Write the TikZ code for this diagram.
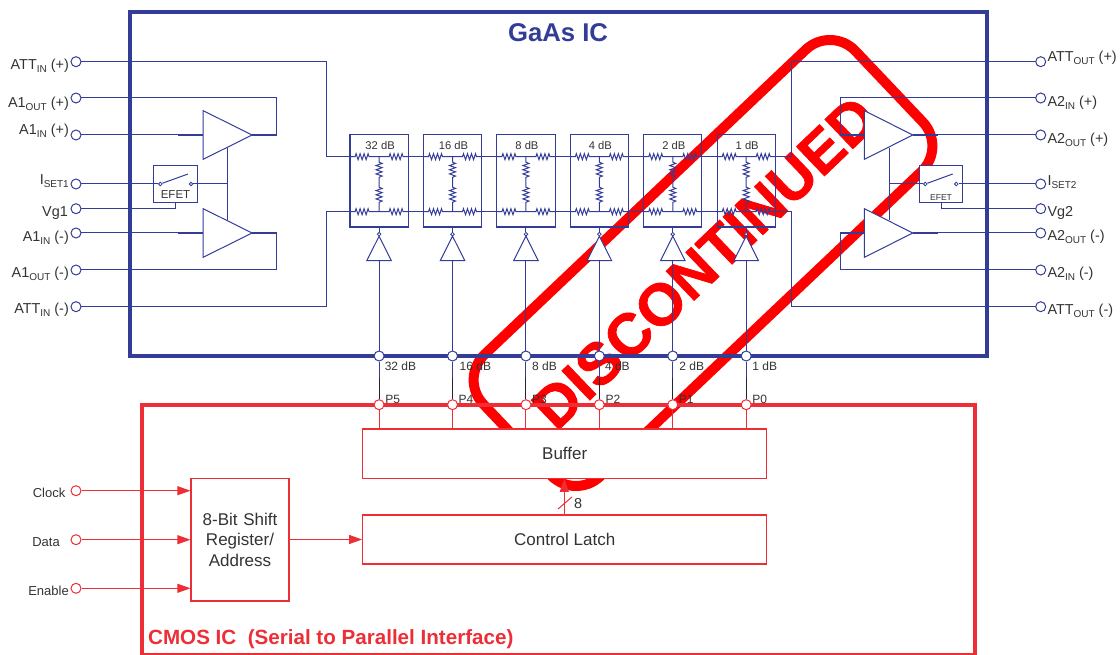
\documentclass[tikz,border=0pt]{standalone}
\usepackage{fontspec}
\setmainfont{Liberation Sans}
\newfontfamily\stampfont[BoldFeatures={FakeBold=1.2}]{Liberation Sans}
\usetikzlibrary{arrows.meta,calc}
\definecolor{gaas}{HTML}{333D97}
\definecolor{cmos}{HTML}{EE2E36}
\definecolor{ink}{HTML}{333333}
\definecolor{stampred}{HTML}{FF0000}
\newcommand{\fs}[1]{\fontsize{#1}{#1}\selectfont}
\newcommand{\sub}[1]{\raisebox{-2.8pt}{\fontsize{10}{10}\selectfont #1}}
\newcommand{\zh}{-- ++(1,-3) -- ++(2,6) -- ++(2,-6) -- ++(2,6) -- ++(2,-6) -- ++(2,6) -- ++(2,-6) -- ++(1,3)}
\newcommand{\zv}{-- ++(3,1.25) -- ++(-6,2.1) -- ++(6,2.1) -- ++(-6,2.1) -- ++(6,2.1) -- ++(-6,2.1) -- ++(6,2.1) -- ++(-3,1.25)}
\tikzset{
  wire/.style={draw=gaas,line width=1pt},
  fatwire/.style={draw=gaas,line width=1.8pt},
  rwire/.style={draw=cmos,line width=1pt},
  blk/.style={draw=black!85,line width=1pt},
  bpin/.style={circle,draw=gaas,fill=white,line width=1pt,inner sep=0pt,minimum size=10pt},
  rpin/.style={circle,draw=cmos,fill=white,line width=1pt,inner sep=0pt,minimum size=10pt},
  tiny/.style={circle,draw=gaas,fill=white,line width=0.8pt,inner sep=0pt,minimum size=3.6pt},
  amp/.style={draw=gaas,fill=white,line width=1pt,line join=miter},
  attbox/.style={draw=gaas,line width=1.1pt,minimum width=58.3pt,minimum height=92.7pt,inner sep=0pt},
  efet/.style={draw=gaas,fill=white,line width=1.1pt,inner sep=0pt},
  rbox/.style={draw=cmos,fill=white,line width=1.2pt,inner sep=0pt,text=ink,font=\fs{17}},
  pinl/.style={text=ink,font=\fs{14.4},anchor=base east,inner sep=0pt},
  pinr/.style={text=ink,font=\fs{14.4},anchor=base west,inner sep=0pt},
  small/.style={text=ink,font=\fs{12},inner sep=0pt},
  rarrow/.style={rwire,-{Triangle[length=13pt,width=9pt]}}
}
\begin{document}
\begin{tikzpicture}[x=1pt,y=-1pt]
\useasboundingbox (0,0) rectangle (1120,655);
\begin{scope}
\clip (0,0) rectangle (1120,655);

% stamp (lowest layer)
\node[draw=stampred,line width=10pt,rounded corners=35pt,rotate=43.5,minimum width=513pt,minimum height=168pt] (stamp) at (703,263) {};
\node[text=stampred,font=\stampfont\fs{59}\bfseries,rotate=43.7,inner sep=0pt] (stamptext) at (704.5,262.5) {DISCONTINUED};

% frames
\node[draw=gaas,line width=4pt,minimum width=857pt,minimum height=343pt,inner sep=0pt] (gaasic) at (558.25,184) {};
\node[draw=cmos,line width=4pt,minimum width=833pt,minimum height=250.8pt,inner sep=0pt] (cmosic) at (558.5,530) {};
\node[text=gaas,font=\fs{25.7}\bfseries,inner sep=0pt] (gaastitle) at (558,33) {GaAs IC};
\node[text=cmos,font=\fs{20.6}\bfseries,anchor=base west,inner sep=0pt] (cmostitle) at (148,644) {CMOS IC\ \ (Serial to Parallel Interface)};

% left pins
\foreach \n/\y in {attip/61.7,aoutp/98,ainp/135,iset/184,vg/208.7,ainm/233,aoutm/270,attim/306.7}{
  \coordinate (L\n) at (76,\y);
}
\foreach \n/\y in {attop/61.7,ainp/98,aoutp/135,iset/184,vg/208.7,aoutm/233,ainm/270,attom/306.7}{
  \coordinate (R\n) at (1040.7,\y);
}

% attenuator stages
\foreach \i/\lab/\pname/\off in {0/32/P5/5.5,1/16/P4/7,2/8/P3/6,3/4/P2/5.5,4/2/P1/6.5,5/1/P0/6}{
  \pgfmathsetmacro{\x}{379.1+73.42*\i}
  \node[attbox] (att\i) at (\x,180.65) {};
  \node[small,font=\fs{11.2}] (attl\i) at (\x+1,145.6) {\lab{} dB};
  \coordinate (tl\i) at (\x-29,156.7);
  \coordinate (tr\i) at (\x+29,156.7);
  \coordinate (bl\i) at (\x-29,211.7);
  \coordinate (br\i) at (\x+29,211.7);
  \coordinate (tc\i) at (\x,156.7);
  \coordinate (bc\i) at (\x,211.7);
  \draw[wire] (tl\i) -- (\x-24,156.7) \zh -- (\x+10,156.7) \zh -- (tr\i);
  \draw[wire] (bl\i) -- (\x-24,211.7) \zh -- (\x+10,211.7) \zh -- (br\i);
  \draw[wire] (tc\i) -- (\x,162.2) \zv -- (\x,187.2) \zv -- (bc\i);
  % control path
  \coordinate (invin\i) at (\x,260.7);
  \coordinate (mid\i) at (\x,378);
  \node[bpin] (gp\i) at (\x,356) {};
  \node[rpin] (cp\i) at (\x,404.7) {};
  \draw[wire] (gp\i) -- (invin\i);
  \draw[amp] (\x-12.3,260.7) -- (\x+12.3,260.7) -- (\x,236.2) -- cycle;
  \node[tiny] (bub\i) at (\x,234.2) {};
  \draw[wire] (att\i.south -| bub\i) -- (bub\i);
  \draw[wire] (gp\i) -- (mid\i);
  \draw[blk] (mid\i) -- (cp\i);
  \node[small,anchor=west] (gl\i) at (\x+\off,366.7) {\lab{} dB};
  \node[small,anchor=west] (pl\i) at (\x+6,399) {\pname};
}
\foreach \i/\j in {0/1,1/2,2/3,3/4,4/5}{
  \draw[wire] (tr\i) -- (tl\j);
  \draw[wire] (br\i) -- (bl\j);
}

% attenuator feeds
\draw[wire] (Lattip) -| (326,156.7) -- (tl0);
\draw[wire] (Lattim) -| (326,211.7) -- (bl0);
\draw[wire] (Rattop) -| (791,156.7) -- (tr5);
\draw[wire] (Rattom) -| (791,211.7) -- (br5);

% left amplifiers
\coordinate (a1t) at (203,135);
\coordinate (a1to) at (252,135);
\coordinate (a1b) at (203,233);
\coordinate (a1bo) at (252,233);
\draw[wire] (Lainp) -- (178,135);
\draw[fatwire] (178,135) -- (a1t);
\draw[wire] (Lainm) -- (178,233);
\draw[fatwire] (178,233) -- (a1b);
\draw[wire] (Laoutp) -| (276.7,135);
\draw[fatwire] (a1to) -- (276.7,135);
\draw[wire] (Laoutm) -| (276.7,233);
\draw[fatwire] (a1bo) -- (276.7,233);
\draw[wire] (227.7,148) -- (227.7,220);
\draw[amp] ($(a1t)+(0,-24.4)$) -- (a1to) -- ($(a1t)+(0,24.4)$) -- cycle;
\draw[amp] ($(a1b)+(0,-24.4)$) -- (a1bo) -- ($(a1b)+(0,24.4)$) -- cycle;

% EFET 1
\node[efet,minimum width=43.6pt,minimum height=37pt] (ef1) at (175.5,184.2) {};
\node[text=ink,font=\fs{11.5},inner sep=0pt] (ef1t) at (175.5,194.5) {EFET};
\node[tiny] (s1a) at (160.3,184) {};
\node[tiny] (s1b) at (191,184) {};
\draw[wire] (s1a) -- (188,174);
\draw[wire] (Liset) -- (s1a);
\draw[wire] (s1b) -- (227.7,184);
\draw[wire] (Lvg) -| (ef1.south);

% right amplifiers
\coordinate (a2t) at (864.3,135);
\coordinate (a2to) at (912.7,135);
\coordinate (a2b) at (864.3,233);
\coordinate (a2bo) at (912.7,233);
\draw[wire] (Rainp) -| (840,135);
\draw[fatwire] (840,135) -- (a2t);
\draw[wire] (Rainm) -| (840,233);
\draw[fatwire] (840,233) -- (a2b);
\draw[wire] (Raoutp) -- (938,135);
\draw[fatwire] (a2to) -- (938,135);
\draw[wire] (Raoutm) -- (938,233);
\draw[fatwire] (a2bo) -- (938,233);
\draw[wire] (889,148) -- (889,220);
\draw[amp] ($(a2t)+(0,-24.4)$) -- (a2to) -- ($(a2t)+(0,24.4)$) -- cycle;
\draw[amp] ($(a2b)+(0,-24.4)$) -- (a2bo) -- ($(a2b)+(0,24.4)$) -- cycle;

% EFET 2
\node[efet,minimum width=43.4pt,minimum height=37pt] (ef2) at (941,184.2) {};
\node[text=ink,font=\fs{8.6},inner sep=0pt] (ef2t) at (941,197.5) {EFET};
\node[tiny] (s2a) at (925.3,184) {};
\node[tiny] (s2b) at (956.3,184) {};
\draw[wire] (s2a) -- (952.7,174);
\draw[wire] (889,184) -- (s2a);
\draw[wire] (Riset) -- (s2b);
\draw[wire] (Rvg) -| (ef2.south);

% pins (open circles)
\foreach \n in {attip,aoutp,ainp,iset,vg,ainm,aoutm,attim}{\node[bpin] (pinL\n) at (L\n) {};}
\foreach \n in {attop,ainp,aoutp,iset,vg,aoutm,ainm,attom}{\node[bpin] (pinR\n) at (R\n) {};}

% left pin labels
\node[pinl] (t1) at (69,70) {ATT\sub{IN} (+)};
\node[pinl] (t2) at (69,107.7) {A1\sub{OUT} (+)};
\node[pinl] (t3) at (69,135) {A1\sub{IN} (+)};
\node[pinl] (t4) at (69,185) {I\sub{SET1}};
\node[pinl] (t5) at (68,216.7) {Vg1};
\node[pinl] (t6) at (69,241.7) {A1\sub{IN} (-)};
\node[pinl] (t7) at (69,278) {A1\sub{OUT} (-)};
\node[pinl] (t8) at (69,314) {ATT\sub{IN} (-)};
% right pin labels
\node[pinr] (u1) at (1047.3,61.7) {ATT\sub{OUT} (+)};
\node[pinr] (u2) at (1047.3,106.7) {A2\sub{IN} (+)};
\node[pinr] (u3) at (1047.3,144) {A2\sub{OUT} (+)};
\node[pinr] (u4) at (1047.3,185.7) {I\sub{SET2}};
\node[pinr] (u5) at (1047.3,216.7) {Vg2};
\node[pinr] (u6) at (1047.3,241) {A2\sub{OUT} (-)};
\node[pinr] (u7) at (1047.3,278) {A2\sub{IN} (-)};
\node[pinr] (u8) at (1047.3,315) {ATT\sub{OUT} (-)};

% CMOS blocks
\foreach \i in {0,1,2,3,4,5}{\coordinate (bt\i) at (cp\i |- 0,429);}
\node[rbox,minimum width=404pt,minimum height=49.3pt] (buffer) at (564.7,453.6) {Buffer};
\node[rbox,minimum width=404pt,minimum height=49pt] (latch) at (564.7,539.5) {Control Latch};
\node[rbox,minimum width=98pt,minimum height=122.7pt,align=center,text width=98pt] (shift) at (240,539.7) {8-Bit Shift\\[3.5pt]Register/\\[3.5pt]Address};
\foreach \i in {0,1,2,3,4,5}{\draw[rwire] (cp\i) -- (bt\i);}
\coordinate (ax) at (564.3,500);
\draw[rarrow] (latch.north -| ax) -- (buffer.south -| ax);
\draw[rwire] (558,509) -- (572,497);
\node[text=ink,font=\fs{14.4},inner sep=0pt] (eight) at (578,504) {8};
\draw[rarrow] (shift.east |- latch.center) -- (latch.west);

\node[rpin] (clk) at (76,490.7) {};
\node[rpin] (dat) at (76,539.7) {};
\node[rpin] (ena) at (76,588.3) {};
\draw[rarrow] (clk) -- (shift.west |- clk);
\draw[rarrow] (dat) -- (shift.west |- dat);
\draw[rarrow] (ena) -- (shift.west |- ena);
\node[small,font=\fs{13},anchor=base east] (tclk) at (65.5,497) {Clock};
\node[small,font=\fs{13},anchor=base east] (tdat) at (60,546) {Data};
\node[small,font=\fs{13},anchor=base east] (tena) at (69,595) {Enable};
\end{scope}
\end{tikzpicture}
\end{document}
